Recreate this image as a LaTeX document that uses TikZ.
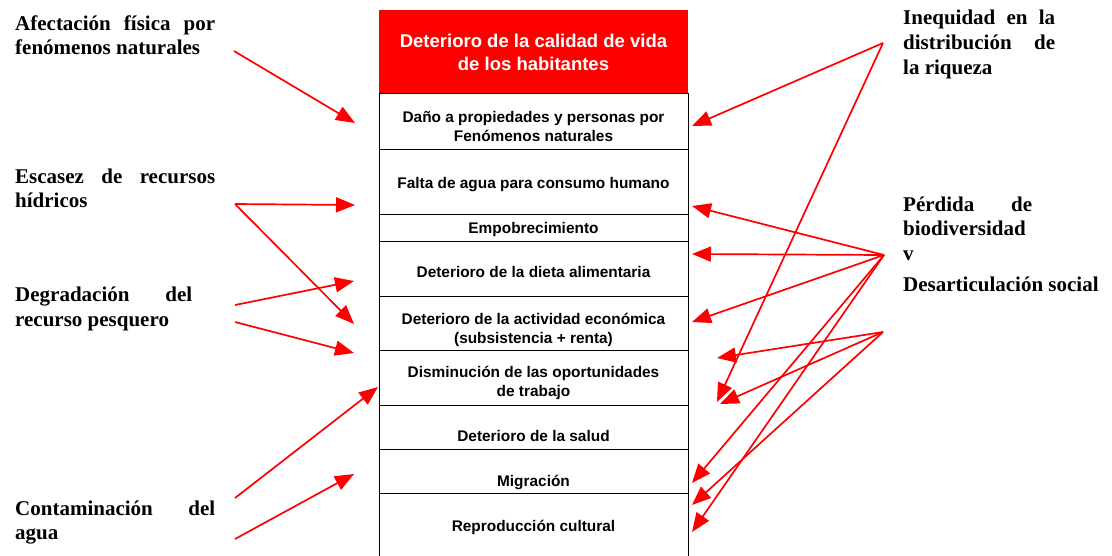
\documentclass[tikz,border=0pt]{standalone}
\usepackage{fontspec}
\setmainfont{Liberation Serif}
\setsansfont{Liberation Sans}
\usepackage{tikz}
\usetikzlibrary{arrows.meta}

\begin{document}
\begin{tikzpicture}[x=1pt,y=-1pt]
	\tikzset{>={Triangle[length=19pt,width=15pt]}}
	\tikzset{causa/.style={inner sep=0pt,anchor=base west,align=justify,
			font=\rmfamily\bfseries\fontsize{21}{24.5}\selectfont},
		efecto/.style={inner sep=0pt,anchor=base,align=center,
			font=\sffamily\bfseries\fontsize{15.4}{19}\selectfont},
		flecha/.style={->,red,line width=1.7pt}}
	\useasboundingbox (0,0) rectangle (1112,555);
	% columna central
	\path[fill=red] (379,10) rectangle (688,93);
	\path[draw,line width=0.9pt] (379,93) rectangle (688,600);
	\path[draw,line width=0.9pt] (379,149) -- (688,149);
	\path[draw,line width=0.9pt] (379,214) -- (688,214);
	\path[draw,line width=0.9pt] (379,241) -- (688,241);
	\path[draw,line width=0.9pt] (379,296) -- (688,296);
	\path[draw,line width=0.9pt] (379,350) -- (688,350);
	\path[draw,line width=0.9pt] (379,405) -- (688,405);
	\path[draw,line width=0.9pt] (379,449) -- (688,449);
	\path[draw,line width=0.9pt] (379,493) -- (688,493);
	% (en nodos de varias lineas la base es la ultima linea)
	\node[efecto,text=white,font=\sffamily\bfseries\fontsize{18.5}{23}\selectfont] (titulo) at (533.5,70.7)
		{Deterioro de la calidad de vida\\de los habitantes};
	\node[efecto] (dano) at (533.5,141.7) {Daño a propiedades y personas por\\Fenómenos naturales};
	\node[efecto] (falta) at (533.5,188.3) {Falta de agua para consumo humano};
	\node[efecto] (empob) at (533.5,233.3) {Empobrecimiento};
	\node[efecto] (dieta) at (533.5,277.3) {Deterioro de la dieta alimentaria};
	\node[efecto] (activ) at (533.5,343.3) {Deterioro de la actividad económica\\(subsistencia + renta)};
	\node[efecto] (dismin) at (533.5,396) {Disminución de las oportunidades\\de trabajo};
	\node[efecto] (salud) at (533.5,441.7) {Deterioro de la salud};
	\node[efecto] (migra) at (533.5,486) {Migración};
	\node[efecto] (repro) at (533.5,531.7) {Reproducción cultural};
	% causas
	\node[causa,text width=200pt] (afect) at (15,30) {Afectación física por\linebreak fenómenos naturales};
	\node[causa,text width=200pt] (escasez) at (15,183) {Escasez de recursos\linebreak hídricos};
	\node[causa,text width=177pt] (degrad) at (15,301.5) {Degradación del\linebreak recurso pesquero};
	\node[causa,text width=200pt] (contam) at (15,515) {Contaminación del\linebreak agua};
	\node[causa,text width=152pt,font=\rmfamily\bfseries\fontsize{21}{25}\selectfont] (ineq) at (903,24)
		{Inequidad en la\linebreak distribución de\linebreak la riqueza};
	\node[causa,text width=129pt] (perdida) at (903,211) {Pérdida de\linebreak biodiversidad\newline v};
	\node[causa,text width=210pt] (desart) at (903,291) {Desarticulación social};
	% salidas y llegadas de las flechas
	\coordinate (afect-o) at (234,51);
	\coordinate (escasez-o) at (235,204);
	\coordinate (degrad-o1) at (235,305);
	\coordinate (degrad-o2) at (235,322);
	\coordinate (contam-o1) at (235,498);
	\coordinate (contam-o2) at (235,539);
	\coordinate (ineq-o) at (883,43);
	\coordinate (perdida-o) at (884,255);
	\coordinate (desart-o) at (883,332);
	\coordinate (dano-i) at (355,123);
	\coordinate (falta-i) at (355,205);
	\coordinate (dieta-i) at (354,281);
	\coordinate (activ-i) at (354,324);
	\coordinate (dismin-i) at (354,353);
	\coordinate (dismin-b) at (378,387);
	\coordinate (migra-i) at (354,474);
	\coordinate (dano-d) at (692,126);
	\coordinate (falta-d) at (692,206);
	\coordinate (dieta-d) at (692,254);
	\coordinate (activ-d) at (692,322);
	\coordinate (dismin-a) at (717,358);
	\coordinate (dismin-c) at (717,402);
	\coordinate (dismin-e) at (720,404);
	\coordinate (migra-d) at (692,483);
	\coordinate (repro-e) at (692,505);
	\coordinate (repro-d) at (692,532);
	% flechas
	\draw[flecha] (afect-o) -- (dano-i);
	\draw[flecha] (escasez-o) -- (falta-i);
	\draw[flecha] (escasez-o) -- (activ-i);
	\draw[flecha] (degrad-o1) -- (dieta-i);
	\draw[flecha] (degrad-o2) -- (dismin-i);
	\draw[flecha] (contam-o1) -- (dismin-b);
	\draw[flecha] (contam-o2) -- (migra-i);
	\draw[flecha] (ineq-o) -- (dano-d);
	\draw[flecha] (ineq-o) -- (dismin-c);
	\draw[flecha] (perdida-o) -- (falta-d);
	\draw[flecha] (perdida-o) -- (dieta-d);
	\draw[flecha] (perdida-o) -- (activ-d);
	\draw[flecha] (perdida-o) -- (migra-d);
	\draw[flecha] (perdida-o) -- (repro-d);
	\draw[flecha] (desart-o) -- (dismin-a);
	\draw[flecha] (desart-o) -- (dismin-e);
	\draw[flecha] (desart-o) -- (repro-e);
\end{tikzpicture}
\end{document}
